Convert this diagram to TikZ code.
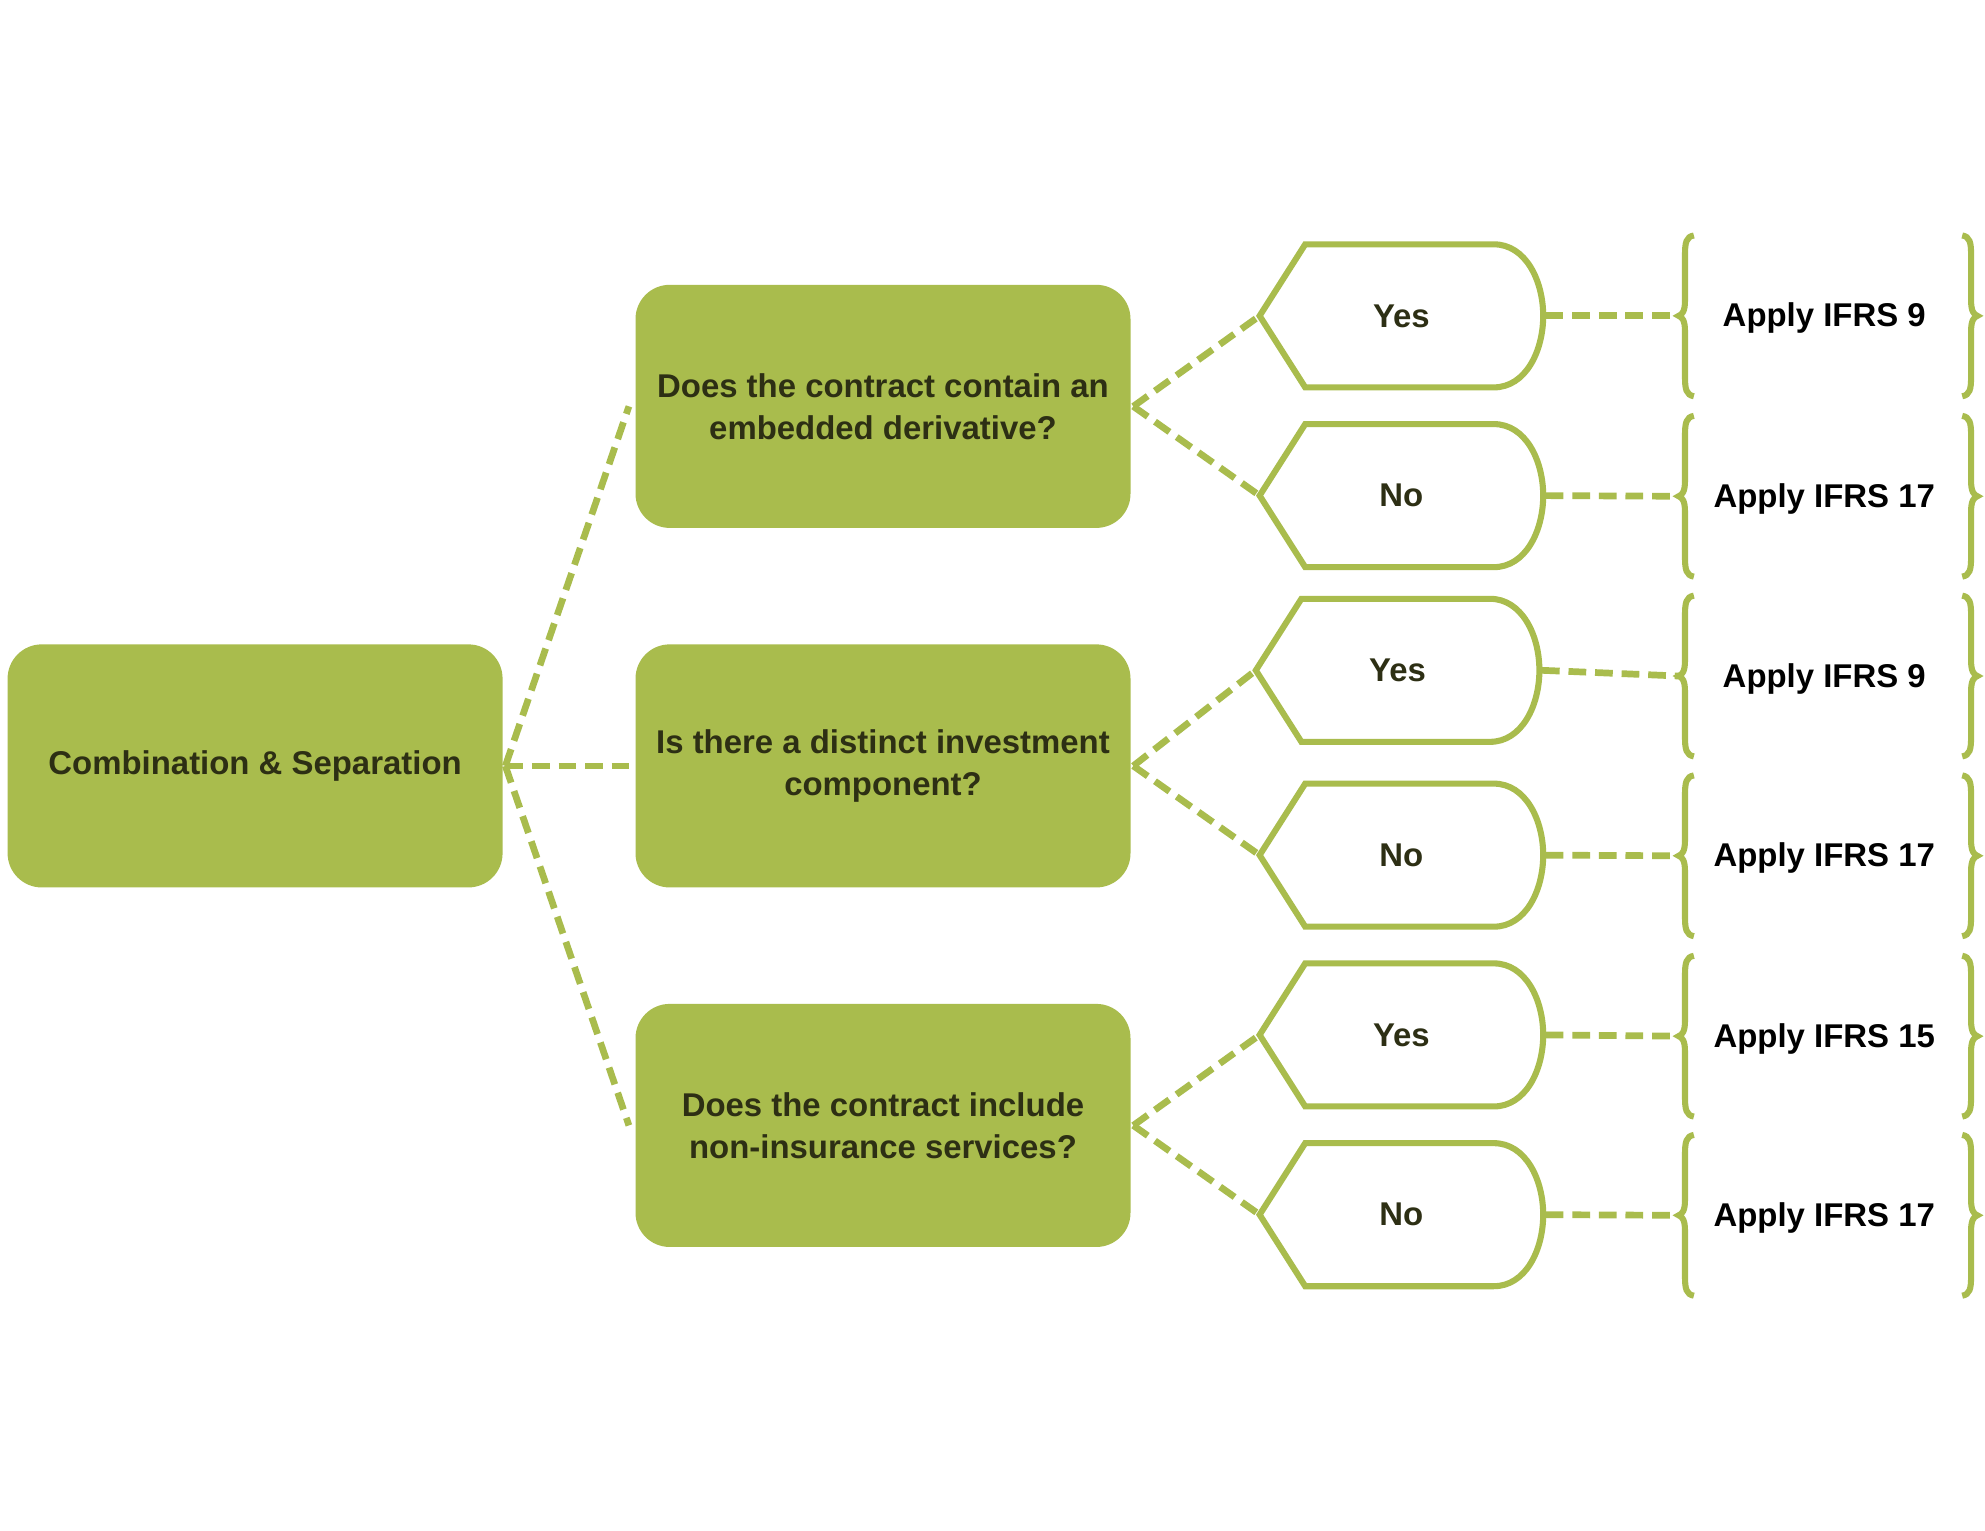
\documentclass[tikz,border=0pt]{standalone}
\usepackage{fontspec}
\setmainfont{Liberation Sans}
\definecolor{leaf}{RGB}{169,188,77}
\definecolor{ink}{RGB}{45,47,20}

% answer tag: name, left tip x, centre y, label
\newcommand\answertag[4]{%
  \draw[tagline] (#2,#3) -- (#2+36,#3-56.5) -- (#2+185,#3-56.5)
    .. controls (#2+210,#3-56.5) and (#2+224,#3-28) .. (#2+224,#3)
    .. controls (#2+224,#3+28) and (#2+210,#3+56.5) .. (#2+185,#3+56.5)
    -- (#2+36,#3+56.5) -- cycle;
  \coordinate (#1-l) at (#2,#3);
  \coordinate (#1-r) at (#2+226,#3);
  \node[anstext] (#1) at (#2+112,#3) {#4};
}

% outcome between braces: name, centre y, label
\newcommand\outcome[3]{%
  \draw[bracket] (1338,#2-63.5) .. controls (1332,#2-62.5) and (1331,#2-58) .. (1331,#2-48)
    -- (1331,#2-12) .. controls (1331,#2-4) and (1329,#2-1) .. (1326,#2)
    .. controls (1329,#2+1) and (1331,#2+4) .. (1331,#2+12)
    -- (1331,#2+48) .. controls (1331,#2+58) and (1332,#2+62.5) .. (1338,#2+63.5);
  \draw[bracket] (1550,#2-63.5) .. controls (1556,#2-62.5) and (1557,#2-58) .. (1557,#2-48)
    -- (1557,#2-12) .. controls (1557,#2-4) and (1559,#2-1) .. (1562,#2)
    .. controls (1559,#2+1) and (1557,#2+4) .. (1557,#2+12)
    -- (1557,#2+48) .. controls (1557,#2+58) and (1556,#2+62.5) .. (1550,#2+63.5);
  \coordinate (#1-t) at (1326,#2);
  \node[ruletext] (#1) at (1441,#2+2) {#3};
}

\begin{document}
\begin{tikzpicture}[x=1pt,y=-1pt,
  qbox/.style={fill=leaf, rounded corners=27pt, minimum width=391pt,
    minimum height=192pt, inner sep=0pt, align=center, text=ink,
    font=\bfseries\fontsize{26}{33}\selectfont},
  link/.style={draw=leaf, line width=5.3pt, dash pattern=on 14pt off 7pt},
  tagline/.style={draw=leaf, line width=4.8pt, fill=white, line join=miter},
  bracket/.style={draw=leaf, line width=4.8pt},
  anstext/.style={text=ink, font=\bfseries\fontsize{26}{33}\selectfont},
  ruletext/.style={text=black, font=\bfseries\fontsize{26}{33}\selectfont}]

\useasboundingbox[fill=white] (0,0) rectangle (1568,1209);

% main boxes
\node[qbox] (root) at (201.5,605) {Combination \& Separation};
\node[qbox] (q1) at (697.5,321) {Does the contract contain an\\embedded derivative?};
\node[qbox] (q2) at (697.5,605) {Is there a distinct investment\\component?};
\node[qbox] (q3) at (697.5,889) {Does the contract include\\non-insurance services?};

% yes / no tags
\answertag{q1y}{995}{249.5}{Yes}
\answertag{q1n}{995}{391.5}{No}
\answertag{q2y}{992}{529.5}{Yes}
\answertag{q2n}{995}{675.5}{No}
\answertag{q3y}{995}{817.5}{Yes}
\answertag{q3n}{995}{959.5}{No}

% outcomes
\outcome{o1}{249.5}{Apply IFRS 9}
\outcome{o2}{392}{Apply IFRS 17}
\outcome{o3}{534}{Apply IFRS 9}
\outcome{o4}{676}{Apply IFRS 17}
\outcome{o5}{818.5}{Apply IFRS 15}
\outcome{o6}{960}{Apply IFRS 17}

% connectors
\foreach \q in {q1,q2,q3}
  \draw[link] ([xshift=2pt]root.east) -- ([xshift=-5pt]\q.west);
\foreach \q in {q1,q2,q3} {
  \draw[link] ([xshift=2pt]\q.east) -- (\q y-l);
  \draw[link] ([xshift=2pt]\q.east) -- (\q n-l);
}
\draw[link] (q1y-r) -- (o1-t);
\draw[link] (q1n-r) -- (o2-t);
\draw[link] (q2y-r) -- (o3-t);
\draw[link] (q2n-r) -- (o4-t);
\draw[link] (q3y-r) -- (o5-t);
\draw[link] (q3n-r) -- (o6-t);
\end{tikzpicture}
\end{document}
